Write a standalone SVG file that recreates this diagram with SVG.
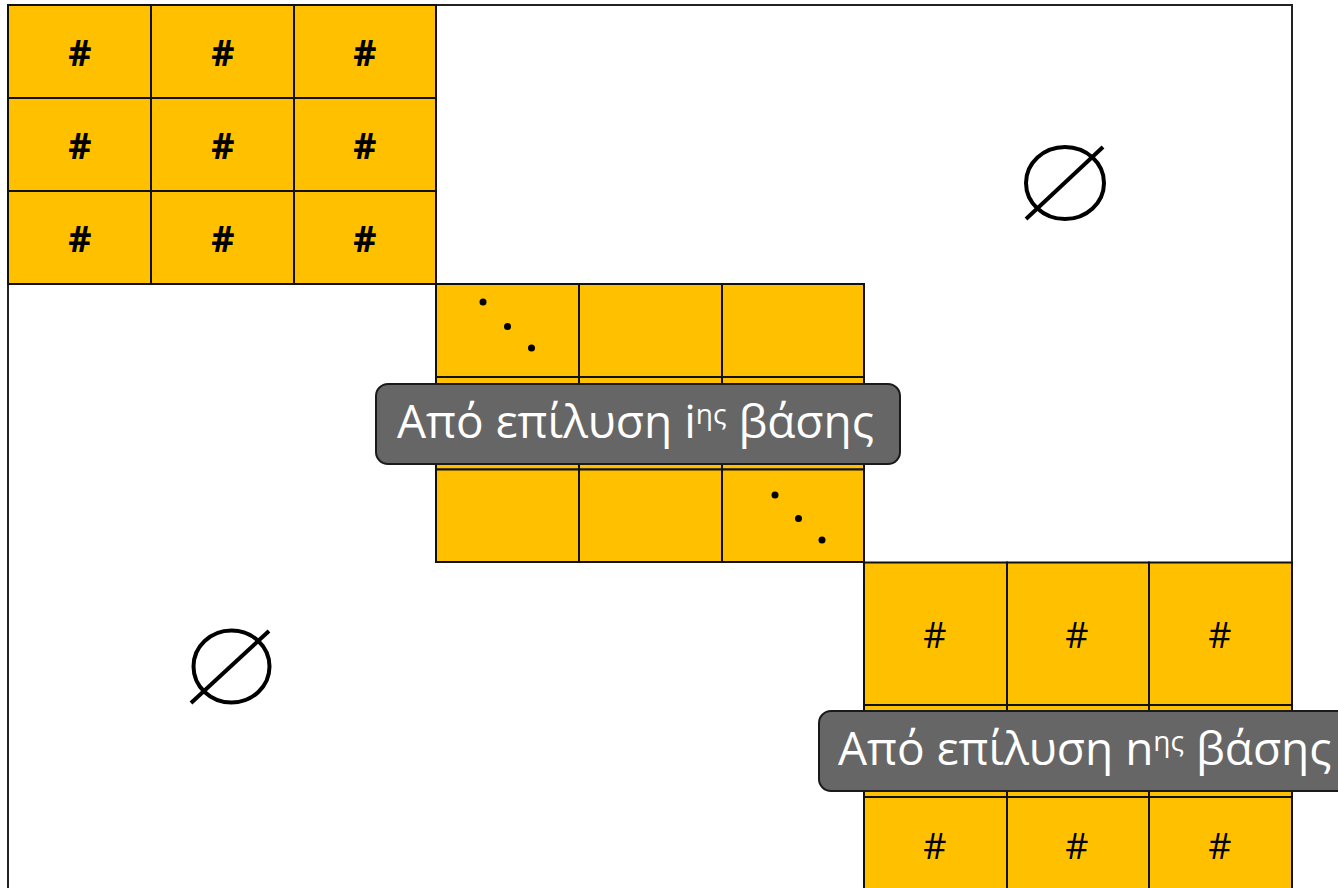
<svg xmlns="http://www.w3.org/2000/svg" width="1338" height="888" viewBox="0 0 1338 888">
<style>
.cell{fill:#FFC000;stroke:#111;stroke-width:2}
.hash{font-family:"Open Sans","DejaVu Sans",sans-serif;font-size:36px;fill:#000;text-anchor:middle;dominant-baseline:central}
.hb{font-weight:bold}
.dot{fill:#000}
.lbl{fill:#666;stroke:#1a1a1a;stroke-width:2}
.lt{font-family:"Open Sans","Noto Sans",sans-serif;font-size:46px;fill:#fff}
.sym{fill:none;stroke:#000;stroke-width:4}
</style>
<rect id="frame" x="8" y="5" width="1284" height="900" fill="#fff" stroke="#222" stroke-width="2"/>
<g id="block1">
<rect class="cell" x="8" y="5" width="143" height="93"/>
<rect class="cell" x="151" y="5" width="143" height="93"/>
<rect class="cell" x="294" y="5" width="142" height="93"/>
<rect class="cell" x="8" y="98" width="143" height="93"/>
<rect class="cell" x="151" y="98" width="143" height="93"/>
<rect class="cell" x="294" y="98" width="142" height="93"/>
<rect class="cell" x="8" y="191" width="143" height="93"/>
<rect class="cell" x="151" y="191" width="143" height="93"/>
<rect class="cell" x="294" y="191" width="142" height="93"/>
<text class="hash hb" x="80" y="52">#</text>
<text class="hash hb" x="223" y="52">#</text>
<text class="hash hb" x="365" y="52">#</text>
<text class="hash hb" x="80" y="145">#</text>
<text class="hash hb" x="223" y="145">#</text>
<text class="hash hb" x="365" y="145">#</text>
<text class="hash hb" x="80" y="238">#</text>
<text class="hash hb" x="223" y="238">#</text>
<text class="hash hb" x="365" y="238">#</text>
</g>
<g id="block2">
<rect class="cell" x="436" y="284" width="143" height="93"/>
<rect class="cell" x="579" y="284" width="143" height="93"/>
<rect class="cell" x="722" y="284" width="142" height="93"/>
<rect class="cell" x="436" y="377" width="143" height="92.5"/>
<rect class="cell" x="579" y="377" width="143" height="92.5"/>
<rect class="cell" x="722" y="377" width="142" height="92.5"/>
<rect class="cell" x="436" y="469.5" width="143" height="92.5"/>
<rect class="cell" x="579" y="469.5" width="143" height="92.5"/>
<rect class="cell" x="722" y="469.5" width="142" height="92.5"/>
<circle class="dot" cx="483" cy="302" r="3.5"/>
<circle class="dot" cx="507.5" cy="326.5" r="3.5"/>
<circle class="dot" cx="531.5" cy="348" r="3.5"/>
<circle class="dot" cx="775" cy="495" r="3.5"/>
<circle class="dot" cx="798.5" cy="518.5" r="3.5"/>
<circle class="dot" cx="822" cy="540" r="3.5"/>
</g>
<g id="block3">
<rect class="cell" x="864" y="562.5" width="143" height="142.5"/>
<rect class="cell" x="1007" y="562.5" width="142" height="142.5"/>
<rect class="cell" x="1149" y="562.5" width="143" height="142.5"/>
<rect class="cell" x="864" y="705" width="143" height="92"/>
<rect class="cell" x="1007" y="705" width="142" height="92"/>
<rect class="cell" x="1149" y="705" width="143" height="92"/>
<rect class="cell" x="864" y="797" width="143" height="100"/>
<rect class="cell" x="1007" y="797" width="142" height="100"/>
<rect class="cell" x="1149" y="797" width="143" height="100"/>
<text class="hash" x="935" y="634">#</text>
<text class="hash" x="1077" y="634">#</text>
<text class="hash" x="1220" y="634">#</text>
<text class="hash" x="935" y="845">#</text>
<text class="hash" x="1077" y="845">#</text>
<text class="hash" x="1220" y="845">#</text>
</g>
<g id="empty1">
<ellipse class="sym" cx="1065" cy="183" rx="39" ry="36"/>
<line class="sym" x1="1026" y1="219" x2="1103" y2="147"/>
</g>
<g id="empty2">
<ellipse class="sym" cx="231.5" cy="666.5" rx="38" ry="36"/>
<line class="sym" x1="191" y1="703" x2="269" y2="631"/>
</g>
<g id="label1">
<rect class="lbl" x="376" y="384" width="524" height="80" rx="12"/>
<text class="lt" x="397" y="438">Από επίλυση i<tspan font-size="28" dy="-14">ης</tspan><tspan dy="14"> βάσης</tspan></text>
</g>
<g id="label2">
<rect class="lbl" x="819" y="711" width="530" height="80" rx="12"/>
<text class="lt" x="838" y="765">Από επίλυση n<tspan font-size="28" dy="-14">ης</tspan><tspan dy="14"> βάσης</tspan></text>
</g>
</svg>
